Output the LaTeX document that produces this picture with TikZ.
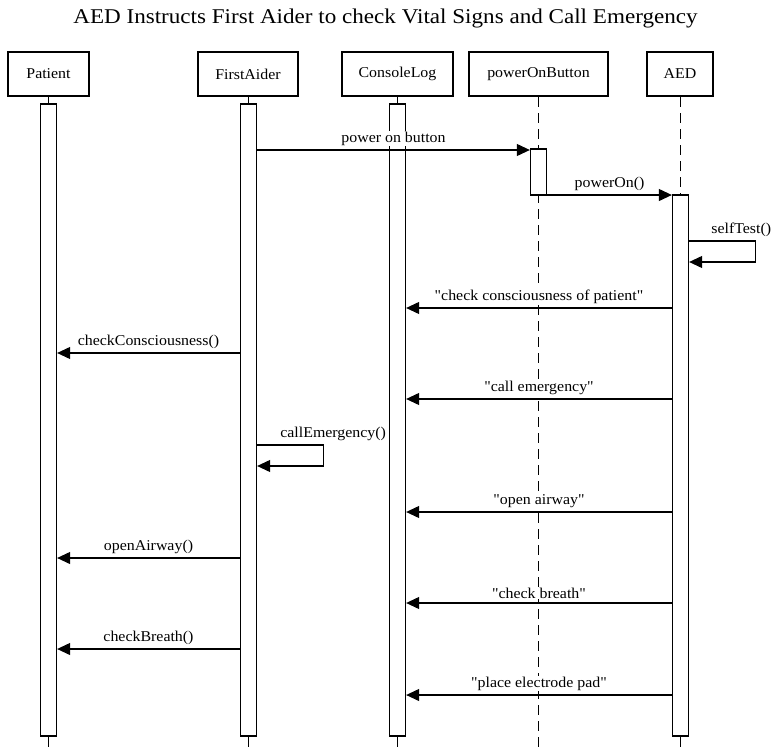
\documentclass[tikz,border=0pt]{standalone}
\usepackage{fontspec}
\setmainfont[FakeStretch=1.06,Ligatures=TeXOff]{Liberation Serif}
\newfontfamily\titlefont[FakeStretch=1.1]{Liberation Serif}
\newcommand\qq{\symbol{34}}
\usetikzlibrary{arrows.meta}
\begin{document}
\begin{tikzpicture}[x=1pt,y=-1pt,
  actor/.style={draw,line width=2.8pt,rectangle,inner sep=0pt,minimum height=44pt,font=\fontsize{15}{17}\selectfont},
  lifeline/.style={line width=1pt,dash pattern=on 10pt off 6pt},
  bar/.style={draw,fill=white,line width=1.3pt,rectangle,inner sep=0pt,minimum width=16pt},
  msg/.style={line width=1.1pt,-{Triangle[length=13pt,width=12pt]}},
  lbl/.style={font=\fontsize{15}{17}\selectfont,inner sep=1pt,fill=white},
]
\useasboundingbox (0,0) rectangle (776,752);
\node[font=\titlefont\fontsize{21}{24}\selectfont] (title) at (385.5,18) {AED Instructs First Aider to check Vital Signs and Call Emergency};
% actors
\node[actor,minimum width=81pt] (P) at (48.5,74) {Patient};
\node[actor,minimum width=100pt] (F) at (248,74) {FirstAider};
\node[actor,minimum width=111pt] (C) at (397.5,74) {ConsoleLog};
\node[actor,minimum width=139pt] (B) at (538.5,74) {powerOnButton};
\node[actor,minimum width=66pt] (A) at (680,74) {AED};
% lifeline ends
\coordinate (Pe) at (48.5,752);
\coordinate (Fe) at (248.5,752);
\coordinate (Ce) at (397.5,752);
\coordinate (Be) at (538.5,752);
\coordinate (Ae) at (680.5,752);
\draw[lifeline] (Pe |- P.south) -- (Pe);
\draw[lifeline] (Fe |- F.south) -- (Fe);
\draw[lifeline] (Ce |- C.south) -- (Ce);
\draw[lifeline] (Be |- B.south) -- (Be);
\draw[lifeline] (Ae |- A.south) -- (Ae);
% activation bars
\node[bar,minimum height=632pt] (Pb) at (48.5,420) {};
\node[bar,minimum height=632pt] (Fb) at (248.5,420) {};
\node[bar,minimum height=632pt] (Cb) at (397.5,420) {};
\node[bar,minimum height=46pt] (Bb) at (538.5,172) {};
\node[bar,minimum height=541pt] (Ab) at (680.5,465.5) {};
% messages
\draw[msg] (Fb.east |- 0,150) -- node[lbl,above=3pt]{power on button} (Bb.west |- 0,150);
\draw[msg] (Bb.east |- 0,195) -- node[lbl,above=3pt]{powerOn()} (Ab.west |- 0,195);
\draw[msg] (Ab.east |- 0,241) -- ++(66,0) -- ++(0,21) -- (Ab.east |- 0,262);
\node[lbl,anchor=south west] (stL) at ([xshift=21pt,yshift=3pt]Ab.east |- 0,241) {selfTest()};
\draw[msg] (Ab.west |- 0,308) -- node[lbl,above=3pt]{\qq check consciousness of patient\qq} (Cb.east |- 0,308);
\draw[msg] (Fb.west |- 0,353) -- node[lbl,above=3pt]{checkConsciousness()} (Pb.east |- 0,353);
\draw[msg] (Ab.west |- 0,399) -- node[lbl,above=3pt]{\qq call emergency\qq} (Cb.east |- 0,399);
\draw[msg] (Fb.east |- 0,445) -- ++(66,0) -- ++(0,21) -- (Fb.east |- 0,466);
\node[lbl,anchor=south west] (ceL) at ([xshift=22pt,yshift=3pt]Fb.east |- 0,445) {callEmergency()};
\draw[msg] (Ab.west |- 0,512) -- node[lbl,above=3pt]{\qq open airway\qq} (Cb.east |- 0,512);
\draw[msg] (Fb.west |- 0,558) -- node[lbl,above=3pt]{openAirway()} (Pb.east |- 0,558);
\draw[msg] (Ab.west |- 0,603) -- node[lbl,above=3pt]{\qq check breath\qq} (Cb.east |- 0,603);
\draw[msg] (Fb.west |- 0,649) -- node[lbl,above=3pt]{checkBreath()} (Pb.east |- 0,649);
\draw[msg] (Ab.west |- 0,695) -- node[lbl,above=3pt]{\qq place electrode pad\qq} (Cb.east |- 0,695);
\end{tikzpicture}
\end{document}
